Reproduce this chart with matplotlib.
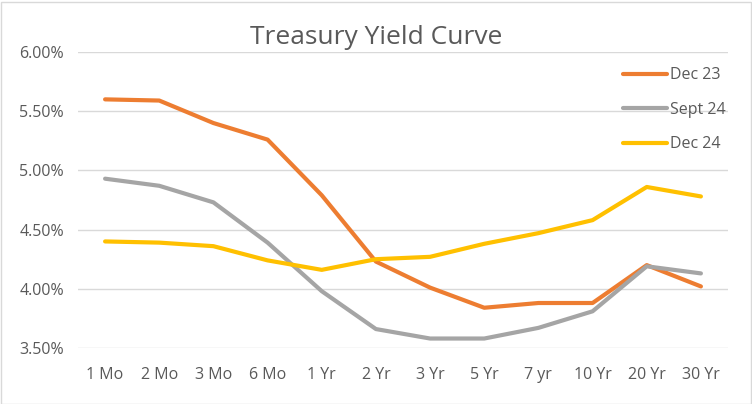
import matplotlib.pyplot as plt
from matplotlib.ticker import FuncFormatter

maturities = ["1 Mo", "2 Mo", "3 Mo", "6 Mo", "1 Yr", "2 Yr", "3 Yr", "5 Yr", "7 yr", "10 Yr", "20 Yr", "30 Yr"]
dec23 = [5.60, 5.59, 5.40, 5.26, 4.79, 4.23, 4.01, 3.84, 3.88, 3.88, 4.20, 4.02]
sept24 = [4.93, 4.87, 4.73, 4.39, 3.98, 3.66, 3.58, 3.58, 3.67, 3.81, 4.19, 4.13]
dec24 = [4.40, 4.39, 4.36, 4.24, 4.16, 4.25, 4.27, 4.38, 4.47, 4.58, 4.86, 4.78]

txt = "#595959"
plt.rcParams['font.family'] = ['Open Sans', 'DejaVu Sans']

fig = plt.figure(figsize=(7.52, 4.04), dpi=100)
ax = fig.add_axes([78 / 752, 1 - 348 / 404, 650 / 752, 296 / 404])

x = range(len(maturities))
ax.plot(x, dec23, color="#ED7D31", lw=3, solid_capstyle="round", label="Dec 23")
ax.plot(x, sept24, color="#A5A5A5", lw=3, solid_capstyle="round", label="Sept 24")
ax.plot(x, dec24, color="#FFC000", lw=3, solid_capstyle="round", label="Dec 24")

ax.set_xlim(-0.5, len(maturities) - 0.5)
ax.set_ylim(3.5, 6.0)
ax.set_yticks([3.5, 4.0, 4.5, 5.0, 5.5, 6.0])
ax.yaxis.set_major_formatter(FuncFormatter(lambda v, p: f"{v:.2f}%"))
ax.set_xticks(list(x))
ax.set_xticklabels(maturities)
ax.grid(axis="y", color="#D9D9D9", lw=1)
ax.set_axisbelow(True)
for s in ax.spines.values():
    s.set_visible(False)
ax.tick_params(length=0, colors=txt, labelsize=11.5)
ax.tick_params(axis="x", pad=14)
ax.tick_params(axis="y", pad=10)

fig.text(0.5, 1 - 37 / 404, "Treasury Yield Curve", ha="center", va="center", fontsize=19, color=txt)

leg = ax.legend(loc="upper left", bbox_to_anchor=(531 / 650, 1 - 1 / 296), frameon=False,
                handlelength=2.75, handletextpad=0.15, labelspacing=1.15, fontsize=11.5)
for t in leg.get_texts():
    t.set_color(txt)

fig.patches.append(plt.Rectangle((0.5 / 752, 0.5 / 404), 750 / 752, 402 / 404, transform=fig.transFigure,
                                 fill=False, edgecolor="#D9D9D9", lw=1))

fig.savefig("out.png", dpi=100)
